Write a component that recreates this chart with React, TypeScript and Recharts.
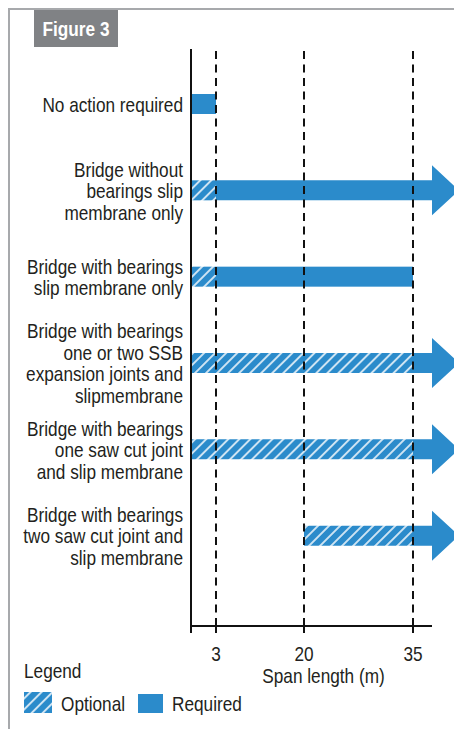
import React from "react";
import {
  BarChart,
  Bar,
  XAxis,
  YAxis,
  ReferenceLine,
  Legend,
  Label,
} from "recharts";

// Categories (top to bottom)
const categories = [
  "No action required",
  "Bridge without\nbearings slip\nmembrane only",
  "Bridge with bearings\nslip membrane only",
  "Bridge with bearings\none or two SSB\nexpansion joints and\nslipmembrane",
  "Bridge with bearings\none saw cut joint\nand slip membrane",
  "Bridge with bearings\ntwo saw cut joint and\nslip membrane",
];

// Span ranges in metres (null = no optional part / open ended)
const optionalStart = [null, 0, 0, 0, 0, 20];
const optionalEnd = [null, 3, 3, 35, 35, 35];
const requiredStart = [0, 3, 3, 35, 35, 35];
const requiredEnd = [3, null, 35, null, null, null];

const spanTicks = [0, 3, 20, 35];
const spanTickLabels = ["", "3", "20", "35"];

// the span axis is schematic, not to scale: piecewise stops
const SCALE_SPAN = [0, 3, 20, 35];
const SCALE_UNITS = [0, 25, 113, 222];
const SCALE_END = 241;

const BLUE = "#2b8bcb";
const INK = "#231f20";
const FONT = "'Liberation Sans', Arial, sans-serif";
const NARROW = 0.82; // condensed look

const toAxis = (v) => {
  if (v === null) return SCALE_END;
  for (let i = 1; i < SCALE_SPAN.length; i++) {
    if (v <= SCALE_SPAN[i]) {
      const t = (v - SCALE_SPAN[i - 1]) / (SCALE_SPAN[i] - SCALE_SPAN[i - 1]);
      return SCALE_UNITS[i - 1] + t * (SCALE_UNITS[i] - SCALE_UNITS[i - 1]);
    }
  }
  return SCALE_END;
};

const rows = categories.map((name, i) => {
  const from = optionalStart[i] ?? requiredStart[i];
  return {
    name,
    blank: toAxis(from),
    optional:
      optionalStart[i] === null ? 0 : toAxis(optionalEnd[i]) - toAxis(optionalStart[i]),
    required: toAxis(requiredEnd[i]) - toAxis(requiredStart[i]),
    open: requiredEnd[i] === null,
  };
});

// text squeezed horizontally to imitate the condensed face
const NarrowText = ({ x, y, anchor = "start", size = 21, weight = "normal", fill = INK, children }) => (
  <text
    transform={`translate(${x},${y}) scale(${NARROW},1)`}
    textAnchor={anchor}
    fontFamily={FONT}
    fontSize={size}
    fontWeight={weight}
    fill={fill}
  >
    {children}
  </text>
);

const CategoryTick = ({ x, y, payload }) => {
  const lines = String(payload.value).split("\n");
  const lh = 21.5;
  const top = y - ((lines.length - 1) * lh) / 2 + 7.5;
  return (
    <g>
      {lines.map((l, i) => (
        <NarrowText key={i} x={x} y={top + i * lh} anchor="end">
          {l}
        </NarrowText>
      ))}
    </g>
  );
};

const SpanTick = ({ x, y, payload, index }) => {
  let i = spanTicks.map(toAxis).findIndex((t) => Math.abs(t - Number(payload?.value)) < 0.5);
  if (i < 0) i = index;
  const txt = spanTickLabels[i];
  if (!txt) return null;
  return (
    <NarrowText x={x} y={y + 14} anchor="middle">
      {txt}
    </NarrowText>
  );
};

const SpanLabel = ({ viewBox }) => (
  <NarrowText x={viewBox.x + viewBox.width / 2 + 12} y={viewBox.y + 57} anchor="middle">
    Span length (m)
  </NarrowText>
);

const RequiredShape = (props) => {
  const { x, y, width, height, payload } = props;
  if (!width || width <= 0) return null;
  if (!payload.open) {
    return <rect x={x} y={y} width={width} height={height} fill={BLUE} />;
  }
  const head = 27;
  const half = 25;
  const cy = y + height / 2;
  const x2 = x + width;
  const pts = [
    [x, y],
    [x2, y],
    [x2, cy - half],
    [x2 + head, cy],
    [x2, cy + half],
    [x2, y + height],
    [x, y + height],
  ]
    .map((p) => p.join(","))
    .join(" ");
  return <polygon points={pts} fill={BLUE} />;
};

const LegendBox = () => (
  <svg width={260} height={62} style={{ display: "block" }}>
    <NarrowText x={0} y={18}>Legend</NarrowText>
    <rect x={0} y={32} width={28} height={21} fill="url(#hatch)" />
    <NarrowText x={37} y={51}>Optional</NarrowText>
    <rect x={114} y={34} width={25} height={19} fill={BLUE} />
    <NarrowText x={148} y={51}>Required</NarrowText>
  </svg>
);

export default function App() {
  return (
    <div
      style={{
        position: "fixed",
        left: 0,
        top: 0,
        width: 454,
        height: 729,
        overflow: "hidden",
        background: "#fff",
      }}
    >
      {/* frame */}
      <div
        style={{
          position: "absolute",
          left: 8,
          top: 8,
          width: 460,
          height: 740,
          borderTop: "2px solid #a7a9ac",
          borderLeft: "2px solid #a7a9ac",
        }}
      />
      {/* figure tag */}
      <div
        style={{
          position: "absolute",
          left: 34,
          top: 10,
          width: 84,
          height: 37,
          background: "#808285",
        }}
      >
        <svg width={84} height={37} style={{ display: "block" }}>
          <NarrowText x={42} y={26} anchor="middle" weight="bold" fill="#fff">
            Figure 3
          </NarrowText>
        </svg>
      </div>

      <div style={{ position: "absolute", left: 0, top: 0 }}>
        <BarChart
          width={454}
          height={729}
          data={rows}
          layout="vertical"
          margin={{ top: 49, right: 22, bottom: 0, left: 0 }}
          barSize={20}
        >
          <defs>
            <pattern
              id="hatch"
              width="7.8"
              height="7.8"
              patternUnits="userSpaceOnUse"
              patternTransform="rotate(45)"
            >
              <rect width="7.8" height="7.8" fill={BLUE} />
              <line x1="3.9" y1="0" x2="3.9" y2="7.8" stroke="#fff" strokeWidth={1.5} />
            </pattern>
          </defs>
          <XAxis
            type="number"
            domain={[0, SCALE_END]}
            ticks={spanTicks.map(toAxis)}
            height={103}
            axisLine={{ stroke: "#111", strokeWidth: 2 }}
            tickLine={{ stroke: "#111", strokeWidth: 2 }}
            tickSize={7}
            tickMargin={14}
            tick={<SpanTick />}
            interval={0}
            minTickGap={0}
          >
            <Label content={<SpanLabel />} position="insideTop" />
          </XAxis>
          <YAxis
            type="category"
            dataKey="name"
            width={191}
            padding={{ top: 12, bottom: 47 }}
            axisLine={{ stroke: "#111", strokeWidth: 2 }}
            tickLine={false}
            tick={<CategoryTick />}
            interval={0}
          />
          <Bar dataKey="blank" stackId="s" fill="transparent" isAnimationActive={false} />
          <Bar dataKey="optional" stackId="s" fill="url(#hatch)" isAnimationActive={false} />
          <Bar
            dataKey="required"
            stackId="s"
            fill={BLUE}
            shape={<RequiredShape />}
            isAnimationActive={false}
          />
          {spanTicks.slice(1).map((s) => (
            <ReferenceLine
              key={s}
              x={toAxis(s)}
              stroke="#111"
              strokeWidth={2}
              strokeDasharray="8 5.5"
            />
          ))}
          <Legend
            layout="vertical"
            align="center"
            verticalAlign="middle"
            content={<LegendBox />}
            wrapperStyle={{ left: 24, top: 660, width: 260 }}
          />
        </BarChart>
      </div>
    </div>
  );
}
